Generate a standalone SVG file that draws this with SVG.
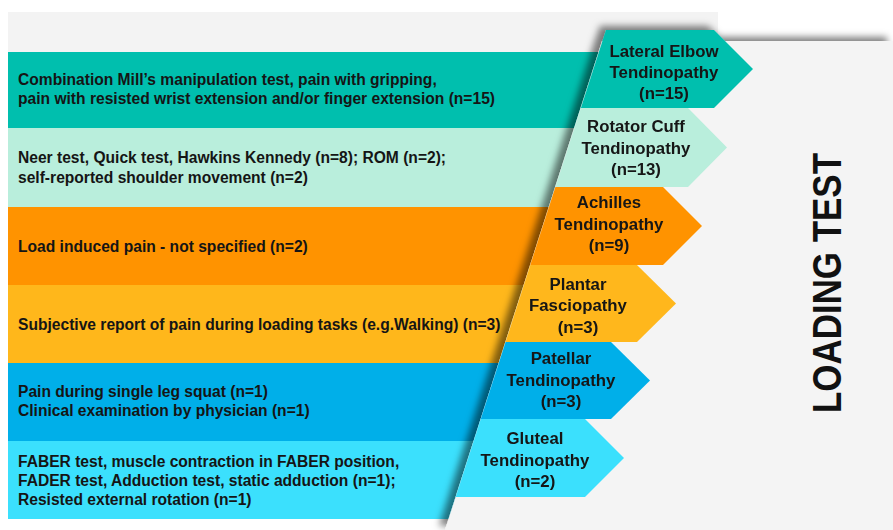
<svg xmlns="http://www.w3.org/2000/svg" width="893" height="530" viewBox="0 0 893 530">
<defs>
<filter id="sh" x="-10%" y="-10%" width="120%" height="120%">
<feDropShadow dx="-6" dy="-4" stdDeviation="3.5" flood-color="#000" flood-opacity="0.5"/>
</filter>
<style>
.lt{font-family:"Liberation Sans",Arial,sans-serif;font-weight:bold;font-size:15.6px;fill:#151515}
.at{font-family:"Liberation Sans",Arial,sans-serif;font-weight:bold;font-size:16.8px;fill:#151515;text-anchor:middle}
.title{font-family:"Liberation Sans",Arial,sans-serif;font-weight:bold;font-size:40px;fill:#111;text-anchor:middle}
.c1{fill:#00BFAE}.c2{fill:#B9EEDC}.c3{fill:#FF9300}.c4{fill:#FFB71B}.c5{fill:#00AFE9}.c6{fill:#3BE0FD}
</style>
</defs>
<rect x="0" y="0" width="893" height="530" fill="#ffffff"/>
<rect x="8" y="12" width="710" height="60" fill="#F3F3F3"/>
<g id="left-bands">
<g id="band-1"><rect class="c1" x="8" y="52" width="600" height="76.5"/>
<text class="lt" x="18" y="85">Combination Mill’s manipulation test, pain with gripping,</text>
<text class="lt" x="18" y="104">pain with resisted wrist extension and/or finger extension (n=15)</text></g>
<g id="band-2"><rect class="c2" x="8" y="128" width="600" height="79"/>
<text class="lt" x="18" y="163">Neer test, Quick test, Hawkins Kennedy (n=8); ROM (n=2);</text>
<text class="lt" x="18" y="183">self-reported shoulder movement (n=2)</text></g>
<g id="band-3"><rect class="c3" x="8" y="207" width="600" height="78"/>
<text class="lt" x="18" y="252">Load induced pain - not specified (n=2)</text></g>
<g id="band-4"><rect class="c4" x="8" y="285" width="600" height="78"/>
<text class="lt" x="18" y="330">Subjective report of pain during loading tasks (e.g.Walking) (n=3)</text></g>
<g id="band-5"><rect class="c5" x="8" y="363" width="600" height="78"/>
<text class="lt" x="18" y="397">Pain during single leg squat (n=1)</text>
<text class="lt" x="18" y="416">Clinical examination by physician (n=1)</text></g>
<g id="band-6"><rect class="c6" x="8" y="441" width="600" height="78"/>
<text class="lt" x="18" y="467">FABER test, muscle contraction in FABER position,</text>
<text class="lt" x="18" y="486">FADER test, Adduction test, static adduction (n=1);</text>
<text class="lt" x="18" y="505">Resisted external rotation (n=1)</text></g>
</g>
<g id="right-panel" filter="url(#sh)">
<polygon points="602.1,41 893,41 893,530 445,530" fill="#F4F4F4"/>
<g id="arrow-1"><polygon class="c1" points="606,30 714,30 753,69 714,108 580.9,108"/>
<text class="at" x="664" y="57">Lateral Elbow</text><text class="at" x="664" y="78">Tendinopathy</text><text class="at" x="664" y="99">(n=15)</text></g>
<g id="arrow-2"><polygon class="c2" points="580.9,108 688,108 727,147.5 688,187 555.4,187"/>
<text class="at" x="636" y="132">Rotator Cuff</text><text class="at" x="636" y="154">Tendinopathy</text><text class="at" x="636" y="175">(n=13)</text></g>
<g id="arrow-3"><polygon class="c3" points="555.4,187 663,187 702,226 663,265 530.3,265"/>
<text class="at" x="609" y="208">Achilles</text><text class="at" x="609" y="230">Tendinopathy</text><text class="at" x="609" y="251">(n=9)</text></g>
<g id="arrow-4"><polygon class="c4" points="530.3,265 637,265 676,303.5 637,342 505.6,342"/>
<text class="at" x="578" y="290">Plantar</text><text class="at" x="578" y="311">Fasciopathy</text><text class="at" x="578" y="333">(n=3)</text></g>
<g id="arrow-5"><polygon class="c5" points="505.6,342 611,342 650,380.5 611,419 480.8,419"/>
<text class="at" x="561" y="364">Patellar</text><text class="at" x="561" y="386">Tendinopathy</text><text class="at" x="561" y="407">(n=3)</text></g>
<g id="arrow-6"><polygon class="c6" points="480.8,419 585,419 624,458 585,497 455.7,497"/>
<text class="at" x="535" y="444">Gluteal</text><text class="at" x="535" y="466">Tendinopathy</text><text class="at" x="535" y="487">(n=2)</text></g>
</g>
<g id="connectors"/>
<text class="title" transform="translate(841,283) rotate(-90)" x="0" y="0" textLength="260" lengthAdjust="spacingAndGlyphs">LOADING TEST</text>
</svg>
